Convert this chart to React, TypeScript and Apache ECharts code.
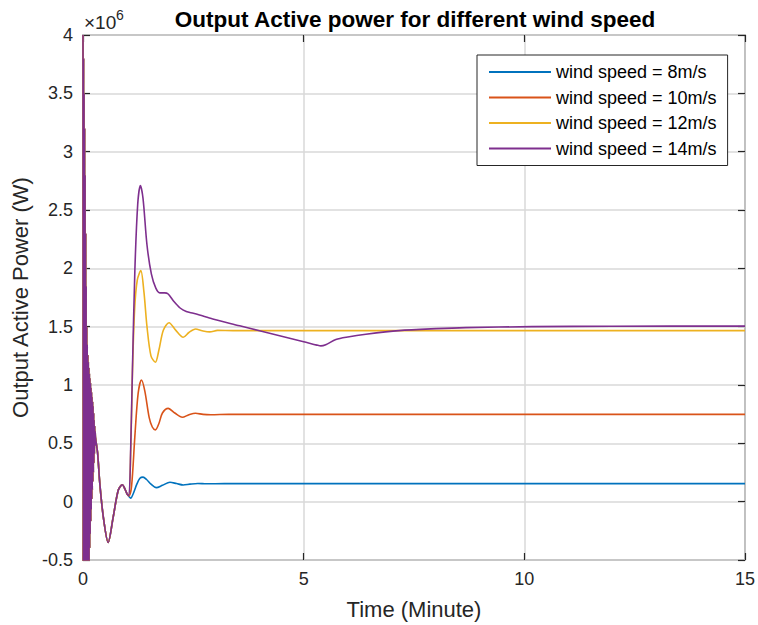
import React, { useEffect, useRef } from "react";
import * as echarts from "echarts";

// Power values are in units of 10^6 W, time in minutes.
const seriesNames = [
  "wind speed = 8m/s",
  "wind speed = 10m/s",
  "wind speed = 12m/s",
  "wind speed = 14m/s",
];
const seriesColors = ["#0072BD", "#D95319", "#EDB120", "#7E2F8E"];

// Shared start-up transient (all four curves coincide here)
const startupTime = [
  0, 0.006, 0.012, 0.018, 0.024, 0.03, 0.036, 0.042, 0.048, 0.054, 0.06, 0.066,
  0.072, 0.078, 0.084, 0.09, 0.096, 0.102, 0.108, 0.114, 0.12, 0.126, 0.132,
  0.138, 0.144, 0.15, 0.156, 0.162, 0.168, 0.174, 0.18, 0.186, 0.192, 0.198,
  0.204, 0.21, 0.216, 0.222, 0.228, 0.234, 0.24, 0.246, 0.252, 0.258, 0.264,
  0.27, 0.276, 0.282, 0.33, 0.38, 0.46, 0.57, 0.685, 0.8, 0.89, 0.96, 1.0,
];
const startupPower = [
  4.0, -0.6, 3.8, -0.6, 3.5, -0.6, 3.2, -0.6, 2.8, -0.6, 2.3, -0.6, 1.85, -0.6,
  1.5, -0.6, 1.35, -0.6, 1.26, -0.6, 1.2, -0.6, 1.15, -0.52, 1.1, -0.4, 1.06,
  -0.28, 1.02, -0.17, 0.98, -0.07, 0.94, 0.02, 0.9, 0.1, 0.86, 0.17, 0.82, 0.25,
  0.76, 0.33, 0.7, 0.41, 0.65, 0.48, 0.6, 0.55, 0.42, 0.16, -0.13, -0.35, -0.13,
  0.1, 0.145, 0.1, 0.065,
];

const tail8Time = [1.04, 1.08, 1.14, 1.22, 1.29, 1.36, 1.44, 1.54, 1.66, 1.8, 1.97, 2.12, 2.27, 2.42, 2.6, 2.8, 3.2, 15];
const tail8Power = [0.045, 0.03, 0.07, 0.15, 0.2, 0.21, 0.19, 0.15, 0.12, 0.14, 0.166, 0.155, 0.143, 0.15, 0.156, 0.153, 0.155, 0.155];

const tail10Time = [1.04, 1.1, 1.175, 1.25, 1.325, 1.4, 1.5, 1.57, 1.64, 1.72, 1.8, 1.93, 2.08, 2.25, 2.4, 2.55, 2.72, 2.9, 3.3, 15];
const tail10Power = [0.05, 0.13, 0.56, 0.93, 1.043, 0.95, 0.72, 0.64, 0.615, 0.67, 0.76, 0.8, 0.76, 0.723, 0.745, 0.758, 0.748, 0.745, 0.748, 0.748];

const tail12Time = [1.04, 1.08, 1.12, 1.17, 1.23, 1.31, 1.38, 1.45, 1.54, 1.64, 1.72, 1.82, 1.95, 2.1, 2.27, 2.4, 2.55, 2.7, 2.87, 3.05, 3.4, 15];
const tail12Power = [0.05, 0.4, 1.1, 1.65, 1.9, 1.98, 1.8, 1.5, 1.25, 1.195, 1.3, 1.47, 1.534, 1.47, 1.409, 1.45, 1.48, 1.465, 1.455, 1.468, 1.466, 1.466];

const tail14Time = [1.04, 1.08, 1.12, 1.175, 1.24, 1.3, 1.36, 1.45, 1.55, 1.65, 1.74, 1.85, 1.93, 2.05, 2.2, 2.34, 2.5, 2.64, 2.94, 3.55, 4.0, 5.0, 5.3, 5.39, 5.5, 5.73, 6.0, 6.41, 7.16, 8.0, 8.67, 10.17, 12, 15];
const tail14Power = [0.05, 0.45, 1.13, 1.98, 2.55, 2.71, 2.6, 2.2, 1.95, 1.83, 1.79, 1.79, 1.78, 1.72, 1.66, 1.63, 1.615, 1.6, 1.565, 1.508, 1.465, 1.371, 1.342, 1.335, 1.345, 1.39, 1.412, 1.435, 1.466, 1.483, 1.492, 1.5, 1.504, 1.505];

const tailTimes = [tail8Time, tail10Time, tail12Time, tail14Time];
const tailPowers = [tail8Power, tail10Power, tail12Power, tail14Power];

const xMin = 0, xMax = 15, xStep = 5;
const yMin = -0.5, yMax = 4, yStep = 0.5;

const FONT = "'Liberation Sans', Arial, Helvetica, sans-serif";
const AX = "#262626";

function pairs(t: number[], v: number[]) {
  return t.map((x, i) => [x, v[i]]);
}

const tickStyle = { show: true, inside: true, length: 7, lineStyle: { color: AX, width: 1.2 } };

export default function App() {
  const ref = useRef<HTMLDivElement>(null);
  useEffect(() => {
    if (!ref.current) return;
    const chart = echarts.init(ref.current, null, { renderer: "svg" });
    const series = seriesNames.map((name, i) => ({
      type: "line",
      name,
      xAxisIndex: 0,
      yAxisIndex: 0,
      data: [...pairs(startupTime, startupPower), ...pairs(tailTimes[i], tailPowers[i])],
      showSymbol: false,
      symbol: "none",
      smooth: 0.3,
      clip: true,
      lineStyle: { width: 1.6, color: seriesColors[i] },
      itemStyle: { color: seriesColors[i] },
    }));
    chart.setOption({
      animation: false,
      backgroundColor: "#fff",
      textStyle: { fontFamily: FONT },
      grid: {
        left: 83,
        right: 11,
        top: 35,
        bottom: 65,
        show: true,
        borderColor: AX,
        borderWidth: 1.2,
        backgroundColor: "#fff",
      },
      legend: {
        orient: "vertical",
        left: 477,
        top: 55,
        padding: [8, 11, 8, 12],
        icon: "rect",
        itemWidth: 62,
        itemHeight: 2,
        itemGap: 7.5,
        borderColor: AX,
        borderWidth: 1,
        backgroundColor: "#fff",
        textStyle: { fontSize: 18, color: "#000", fontFamily: FONT, lineHeight: 18 },
        data: seriesNames,
      },
      xAxis: [
        {
          type: "value",
          min: xMin,
          max: xMax,
          interval: xStep,
          position: "bottom",
          axisLine: { show: false, onZero: false },
          axisTick: tickStyle,
          axisLabel: { fontSize: 18, color: AX, margin: 10, fontFamily: FONT },
          splitLine: { show: true, lineStyle: { color: "#d9d9d9", width: 1.5 } },
          name: "Time (Minute)",
          nameLocation: "middle",
          nameGap: 38,
          nameTextStyle: { fontSize: 22, color: AX, fontFamily: FONT },
        },
        {
          type: "value",
          min: xMin,
          max: xMax,
          interval: xStep,
          position: "top",
          axisLine: { show: false, onZero: false },
          axisTick: tickStyle,
          axisLabel: { show: false },
          splitLine: { show: false },
        },
      ],
      yAxis: [
        {
          type: "value",
          min: yMin,
          max: yMax,
          interval: yStep,
          position: "left",
          axisLine: { show: false, onZero: false },
          axisTick: tickStyle,
          axisLabel: { fontSize: 18, color: AX, margin: 10, fontFamily: FONT },
          splitLine: { show: true, lineStyle: { color: "#d9d9d9", width: 1.5 } },
          name: "Output Active Power (W)",
          nameLocation: "middle",
          nameGap: 50,
          nameTextStyle: { fontSize: 22, color: AX, fontFamily: FONT },
        },
        {
          type: "value",
          min: yMin,
          max: yMax,
          interval: yStep,
          position: "right",
          axisLine: { show: false, onZero: false },
          axisTick: tickStyle,
          axisLabel: { show: false },
          splitLine: { show: false },
        },
      ],
      graphic: [
        {
          type: "text",
          x: 415,
          y: 19,
          style: {
            text: "Output Active power for different wind speed",
            fontSize: 22.5,
            fontWeight: "bold",
            fontFamily: FONT,
            fill: "#000",
            align: "center",
            verticalAlign: "middle",
          },
        },
        {
          type: "text",
          x: 84,
          y: 32,
          style: { text: "×10", fontSize: 19, fontFamily: FONT, fill: AX, align: "left", verticalAlign: "bottom" },
        },
        {
          type: "text",
          x: 116,
          y: 22,
          style: { text: "6", fontSize: 14, fontFamily: FONT, fill: AX, align: "left", verticalAlign: "bottom" },
        },
      ],
      series,
    });
    return () => chart.dispose();
  }, []);
  return (
    <div
      ref={ref}
      style={{ width: 758, height: 625, position: "absolute", left: 0, top: 0, background: "#fff" }}
    />
  );
}
